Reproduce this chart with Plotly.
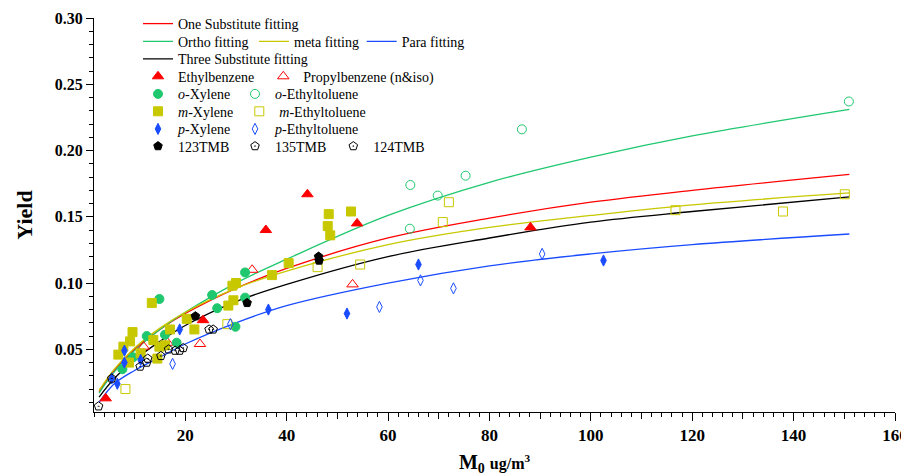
import plotly.graph_objects as go

# ---------------- data ----------------
x_fit = [3, 6, 10, 15, 20, 30, 40, 60, 80, 100, 120, 151]
fit_one = [0.018, 0.034, 0.050, 0.065, 0.077, 0.096, 0.111, 0.134, 0.149, 0.161, 0.170, 0.182]
fit_ortho = [0.017, 0.033, 0.049, 0.065, 0.078, 0.100, 0.118, 0.151, 0.176, 0.195, 0.211, 0.231]
fit_meta = [0.019, 0.035, 0.051, 0.066, 0.078, 0.096, 0.109, 0.129, 0.142, 0.151, 0.159, 0.168]
fit_para = [0.010, 0.024, 0.034, 0.044, 0.054, 0.070, 0.083, 0.100, 0.113, 0.122, 0.129, 0.137]
fit_three = [0.014, 0.028, 0.042, 0.056, 0.068, 0.086, 0.099, 0.120, 0.134, 0.146, 0.154, 0.165]

ethylbenzene_x = [4.3, 23.5, 35.9, 44.1, 53.9, 88.1]
ethylbenzene_y = [0.013, 0.072, 0.140, 0.167, 0.145, 0.142]

propylbenzene_x = [11.8, 16.5, 22.9, 33.2, 53.0]
propylbenzene_y = [0.052, 0.055, 0.054, 0.110, 0.099]

oxylene_x = [7.6, 9.7, 12.4, 14.9, 16.0, 18.3, 25.3, 26.3, 29.9, 31.8, 31.8]
oxylene_y = [0.035, 0.044, 0.060, 0.088, 0.061, 0.055, 0.091, 0.081, 0.067, 0.108, 0.089]

oethyltoluene_x = [64.3, 64.4, 69.8, 75.3, 86.4, 150.9]
oethyltoluene_y = [0.141, 0.174, 0.166, 0.181, 0.216, 0.237]

mxylene_x = [6.8, 7.8, 8.9, 9.1, 9.6, 11.2, 13.4, 13.7, 14.5, 14.9, 16.0, 17.0,
             20.3, 21.8, 28.5, 29.5, 29.3, 30.0, 37.1, 40.4, 48.1, 48.3, 48.6, 52.7]
mxylene_y = [0.046, 0.052, 0.040, 0.056, 0.063, 0.047, 0.085, 0.057, 0.043, 0.052, 0.053, 0.065,
             0.073, 0.065, 0.083, 0.087, 0.098, 0.100, 0.106, 0.115, 0.143, 0.152, 0.136, 0.154]

methyltoluene_x = [8.2, 28.3, 46.1, 54.5, 70.8, 72.0, 116.7, 137.9, 150.1]
methyltoluene_y = [0.020, 0.069, 0.112, 0.114, 0.146, 0.161, 0.155, 0.154, 0.167]

pxylene_x = [5.5, 6.6, 8.0, 8.0, 11.2, 18.9, 36.4, 51.9, 66.0, 102.5]
pxylene_y = [0.028, 0.024, 0.049, 0.040, 0.042, 0.065, 0.080, 0.077, 0.114, 0.117]

pethyltoluene_x = [17.5, 28.9, 58.3, 66.4, 72.9, 90.4]
pethyltoluene_y = [0.039, 0.069, 0.082, 0.102, 0.096, 0.122]

tmb123_x = [22.0, 32.2, 46.3, 46.4]
tmb123_y = [0.075, 0.085, 0.120, 0.117]

tmb135_x = [2.9, 11.1, 12.6, 16.7, 18.9, 24.7]
tmb135_y = [0.007, 0.037, 0.043, 0.050, 0.049, 0.065]

tmb124_x = [5.5, 12.4, 15.2, 18.0, 19.6, 25.5]
tmb124_y = [0.028, 0.040, 0.045, 0.049, 0.051, 0.065]

x_tick_vals = [20, 40, 60, 80, 100, 120, 140, 160]
y_tick_vals = [0.05, 0.10, 0.15, 0.20, 0.25, 0.30]

# ---------------- styling ----------------
RED = "#ff0000"
GREEN = "#1fc86e"
OLIVE = "#c8c800"
BLUE = "#1a4cff"
BLACK = "#000000"
FONT = "Liberation Serif"

# the page body adds an 8px margin, so the figure is drawn from (8, 8)
OFF = 8
W, H = 909 - OFF, 476 - OFF
ML, MR, MT, MB = 94 - OFF, 14, 18 - OFF, 64
PW, PH = W - ML - MR, H - MT - MB
PLOT_LEFT, PLOT_BOTTOM = OFF + ML, OFF + H - MB   # page pixels

fig = go.Figure()

# legend slot positions (page pixels): (left, row-centre)
legend_slots = {
    "legend": (138, 24), "legend2": (138, 41.7), "legend3": (254, 41.7), "legend4": (361.7, 41.7),
    "legend5": (138, 59.3), "legend6": (138, 76.7), "legend7": (263.3, 76.7),
    "legend8": (138, 94.3), "legend9": (235, 94.3), "legend10": (138, 111.7), "legend11": (239.3, 111.7),
    "legend12": (138, 129.3), "legend13": (235, 129.3), "legend14": (138, 146.5), "legend15": (235, 146.5),
    "legend16": (333.3, 146.5),
}

fits = [
    ("One Substitute fitting", fit_one, RED, "legend"),
    ("Ortho fitting", fit_ortho, GREEN, "legend2"),
    ("meta fitting", fit_meta, OLIVE, "legend3"),
    ("Para fitting", fit_para, BLUE, "legend4"),
    ("Three Substitute fitting", fit_three, BLACK, "legend5"),
]
for name, ys, col, lg in fits:
    fig.add_trace(go.Scatter(x=x_fit, y=ys, mode="lines", name=name,
                             line=dict(color=col, width=1.3, shape="spline", smoothing=1.0),
                             legend=lg, hoverinfo="skip"))

points = [
    ("Ethylbenzene", ethylbenzene_x, ethylbenzene_y, "triangle-up", RED, 10, "legend6"),
    ("Propylbenzene (n&amp;iso)", propylbenzene_x, propylbenzene_y, "triangle-up-open", RED, 10, "legend7"),
    ("<i>o</i>-Xylene", oxylene_x, oxylene_y, "circle", GREEN, 9, "legend8"),
    ("<i>o</i>-Ethyltoluene", oethyltoluene_x, oethyltoluene_y, "circle-open", GREEN, 9, "legend9"),
    ("<i>m</i>-Xylene", mxylene_x, mxylene_y, "square", OLIVE, 9, "legend10"),
    ("<i>m</i>-Ethyltoluene", methyltoluene_x, methyltoluene_y, "square-open", OLIVE, 9, "legend11"),
    ("<i>p</i>-Xylene", pxylene_x, pxylene_y, "diamond-tall", BLUE, 8, "legend12"),
    ("<i>p</i>-Ethyltoluene", pethyltoluene_x, pethyltoluene_y, "diamond-tall-open", BLUE, 8, "legend13"),
    ("123TMB", tmb123_x, tmb123_y, "pentagon", BLACK, 9, "legend14"),
    ("135TMB", tmb135_x, tmb135_y, "pentagon-open-dot", BLACK, 9, "legend15"),
    ("124TMB", tmb124_x, tmb124_y, "pentagon-open-dot", BLACK, 9, "legend16"),
]
for name, xs, ys, sym, col, sz, lg in points:
    fig.add_trace(go.Scatter(x=xs, y=ys, mode="markers", name=name, legend=lg,
                             marker=dict(symbol=sym, color=col, size=sz, line=dict(color=col, width=1)),
                             cliponaxis=False, hoverinfo="skip"))

# invisible trace hosting the overlay axis that draws the 10-unit x ticks
fig.add_trace(go.Scatter(x=[None], y=[None], xaxis="x2", showlegend=False, hoverinfo="skip"))

legend_layout = {}
for lg, (lx, ly) in legend_slots.items():
    legend_layout[lg] = dict(
        x=(lx - PLOT_LEFT) / PW, y=(PLOT_BOTTOM - ly) / PH, xref="paper", yref="paper",
        xanchor="left", yanchor="middle", bgcolor="rgba(0,0,0,0)", borderwidth=0,
        font=dict(family=FONT, size=14, color="black"), itemclick=False, itemdoubleclick=False,
    )

fig.update_layout(
    width=W, height=H,
    margin=dict(l=ML, r=MR, t=MT, b=MB, autoexpand=False),
    paper_bgcolor="white", plot_bgcolor="white",
    font=dict(family=FONT, color="black"),
    **legend_layout,
    xaxis=dict(
        range=[2, 160], tickmode="array", tickvals=x_tick_vals,
        ticks="outside", ticklen=8, tickwidth=1, tickcolor="black",
        showline=True, linecolor="black", linewidth=1, showgrid=False, zeroline=False,
        tickfont=dict(family=FONT, size=17, color="black", weight="bold"),
        minor=dict(dtick=2, tick0=0, ticks="outside", ticklen=4, tickcolor="black", showgrid=False),
        title=dict(text="M<sub>0</sub> <span style='font-size:16px'>ug/m<sup>3</sup></span>",
                   font=dict(family=FONT, size=20, color="black", weight="bold"), standoff=18),
    ),
    xaxis2=dict(
        range=[2, 160], overlaying="x", anchor="y", side="bottom",
        tickmode="linear", tick0=0, dtick=10, ticks="outside", ticklen=6, tickcolor="black",
        showticklabels=False, showline=False, showgrid=False, zeroline=False,
    ),
    yaxis=dict(
        range=[0.0027, 0.30], tickmode="array", tickvals=y_tick_vals, tickformat=".2f",
        ticks="outside", ticklen=7, tickwidth=1, tickcolor="black",
        showline=True, linecolor="black", linewidth=1, showgrid=False, zeroline=False,
        tickfont=dict(family=FONT, size=16, color="black", weight="bold"),
        minor=dict(dtick=0.01, tick0=0, ticks="outside", ticklen=4, tickcolor="black", showgrid=False),
        title=dict(text="Yield", font=dict(family=FONT, size=22, color="black", weight="bold"), standoff=16),
    ),
)

fig.write_html("out.html")
